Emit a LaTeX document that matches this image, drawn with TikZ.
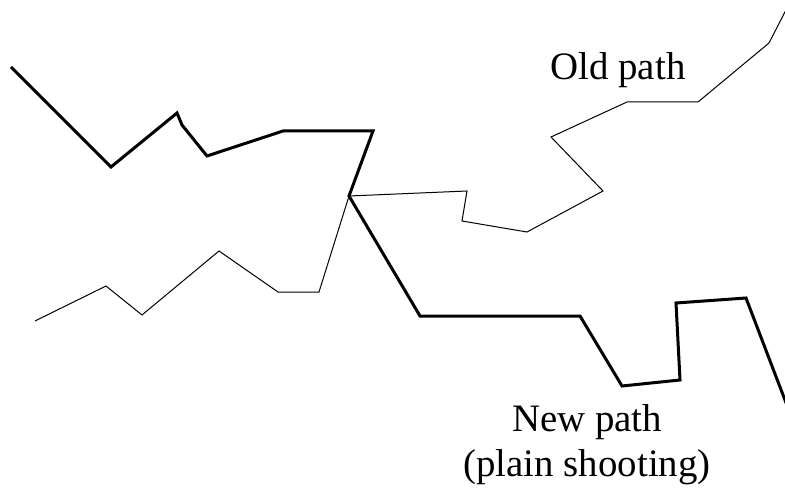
\documentclass[tikz,border=0pt]{standalone}
\usepackage{fontspec}
\setmainfont{Liberation Serif}
\usepackage{tikz}
\usetikzlibrary{positioning}
\tikzset{
  newpath/.style={line width=3bp, line join=miter},
  oldpath/.style={line width=1bp, line join=miter},
  pathlabel/.style={font=\fontsize{39}{45}\selectfont, inner sep=0pt, align=center},
}
\begin{document}
\begin{tikzpicture}[x=1bp, y=-1bp]
    \useasboundingbox (0,0) rectangle (785,488);
    %% shooting point shared by both paths
    \coordinate (shoot) at (349,196);
    %% Old path (thin)
    \draw[oldpath] (35,321) -- (106,286) -- (142,315) -- (219,251) -- (278,292)
      -- (319,292) -- (shoot) -- (467,191) -- (462,221) -- (527,232) -- (603,191)
      -- (551,137) -- (627,102) -- (698,102) -- (769,43) -- (788,6);
    %% New path (thick)
    \draw[newpath] (11,67) -- (111,167) -- (177,113) -- (182,125) -- (207,156)
      -- (283,131) -- (373,131) -- (shoot) -- (420,316) -- (580,316) -- (622,386)
      -- (680,380) -- (676,303) -- (746,298) -- (788,408);
    %% labels
    \node[pathlabel] (oldlbl) at (618,70) {Old path};
    \node[pathlabel] (newlbl) at (587,445) {New path\\(plain shooting)};
\end{tikzpicture}
\end{document}
